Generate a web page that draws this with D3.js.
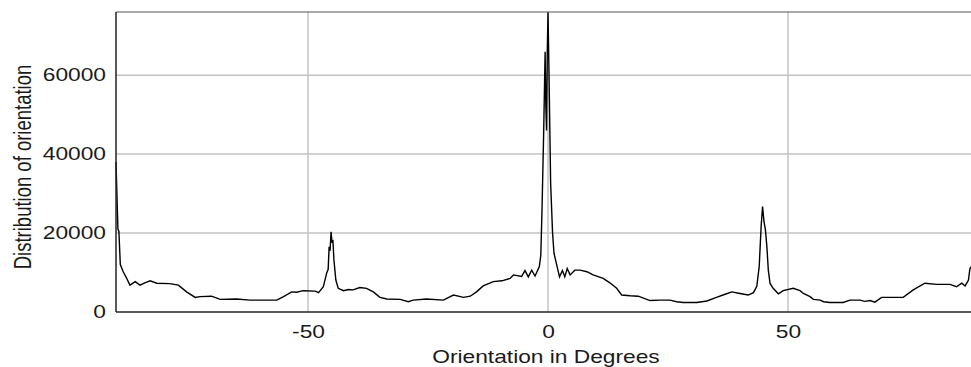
<!DOCTYPE html>
<html><head><meta charset="utf-8">
<script src="https://cdn.jsdelivr.net/npm/d3@7"></script>
<style>body{margin:0;background:#fff}svg{display:block}</style>
</head><body><svg id="chart" width="971" height="367"></svg>
<script>
const orientation = [-90,-89.6,-89.4,-89.1,-88.5,-87.8,-87.1,-86.0,-85.0,-84.0,-82.9,-81.5,-78.8,-77.0,-75.3,-73.5,-72.5,-70.1,-68.3,-64.9,-62.1,-56.5,-55.1,-53.4,-52.4,-51.0,-48.5,-47.8,-46.8,-46.1,-45.8,-45.6,-45.4,-45.2,-45.0,-44.8,-44.6,-44.2,-43.7,-42.6,-41.6,-40.6,-39.2,-37.8,-36.4,-35.0,-33.6,-30.8,-29.1,-28.1,-25.3,-21.8,-19.7,-17.6,-16.2,-14.9,-13.5,-11.4,-9.6,-7.9,-7.2,-5.5,-4.8,-4.1,-3.4,-2.7,-1.8,-1.5,-1.25,-0.9,-0.6,-0.45,-0.3,-0.15,0.0,0.2,0.55,0.95,1.25,1.8,2.4,3.0,3.5,4.0,4.6,5.6,6.7,8.1,9.4,11.5,12.9,14.3,15.35,17.1,18.8,21.25,23.3,25.4,26.8,28.2,31.0,33.1,35.1,36.9,38.3,40.0,41.7,42.8,43.5,44.0,44.4,44.7,45.0,45.3,45.6,45.9,46.25,46.9,48.0,49.0,51.1,52.5,53.2,54.6,55.3,56.7,57.4,58.75,61.5,62.9,65.0,66.0,67.1,68.1,69.5,74.0,76.1,78.5,81.0,83.75,85.1,86.2,86.9,87.6,87.9,88.5];
const distribution = [38000,21000,20500,12000,10200,8600,6800,7700,6800,7400,7900,7300,7200,6800,5100,3700,3900,4000,3200,3300,3000,3000,3900,5100,5000,5400,5300,4900,6400,9900,10800,16500,15500,20300,17800,18000,13200,8100,6000,5400,5700,5600,6200,6000,5100,3700,3300,3200,2600,3000,3300,3000,4300,3700,4000,5100,6600,7700,7900,8500,9400,9000,10500,8900,10600,9100,11500,14400,25800,45600,65900,52000,46000,66000,76000,61300,32600,20000,14900,12000,8900,10500,8900,11000,9400,10600,10600,10200,9400,8500,7400,6000,4300,4100,4000,2900,3000,3000,2600,2400,2400,2800,3700,4500,5100,4700,4300,4900,6500,11500,21600,26700,22900,20800,16500,10600,7300,6000,4600,5400,6000,5400,4700,3900,3200,3000,2600,2400,2400,3000,3000,2700,2900,2500,3700,3700,5600,7300,7000,7000,6400,7300,6600,8100,11000,12000];
const xTicks = [-50, 0, 50];
const yTicks = [0, 20000, 40000, 60000];
const xTitle = "Orientation in Degrees";
const yTitle = "Distribution of orientation";

const SX = 1.3;
const FONT = "'Liberation Sans', Arial, sans-serif";
const TXT = "#1a1a1a";
const x = d3.scaleLinear().domain([-90, 90]).range([116, 980]);
const y = d3.scaleLinear().domain([0, 76000]).range([312, 12]);
const svg = d3.select("#chart");

// grid
svg.append("g").selectAll("line").data(yTicks.filter(d => d > 0)).join("line")
  .attr("x1", x(-90)).attr("x2", x(90)).attr("y1", d => y(d)).attr("y2", d => y(d))
  .attr("stroke", "#c3c3c3").attr("stroke-width", 1.5);
svg.append("g").selectAll("line").data(xTicks).join("line")
  .attr("x1", d => x(d)).attr("x2", d => x(d)).attr("y1", y(76000)).attr("y2", y(0))
  .attr("stroke", "#c3c3c3").attr("stroke-width", 1.5);

// data line
svg.append("path").datum(d3.zip(orientation, distribution))
  .attr("d", d3.line().x(d => x(d[0])).y(d => y(d[1])))
  .attr("fill", "none").attr("stroke", "#000").attr("stroke-width", 1.4)
  .attr("stroke-linejoin", "miter");

// frame
svg.append("line").attr("x1", x(-90)).attr("x2", x(90)).attr("y1", y(76000)).attr("y2", y(76000))
  .attr("stroke", "#555").attr("stroke-width", 1.2);
svg.append("line").attr("x1", x(-90)).attr("x2", x(-90)).attr("y1", y(76000)).attr("y2", y(0))
  .attr("stroke", "#222").attr("stroke-width", 1.5);
svg.append("line").attr("x1", x(-90)).attr("x2", x(90)).attr("y1", y(0)).attr("y2", y(0))
  .attr("stroke", "#222").attr("stroke-width", 1.5);

// y axis
const yAxis = svg.append("g").attr("transform", `translate(${x(-90)},0)`)
  .call(d3.axisLeft(y).tickValues(yTicks).tickSize(0).tickPadding(10).tickFormat(d => String(d)));
yAxis.select(".domain").remove();
yAxis.attr("font-family", FONT).attr("font-size", 17.5);
yAxis.selectAll("text").attr("x", -10 / SX).attr("transform", `scale(${SX},1)`).attr("fill", TXT);

// x axis
const xAxis = svg.append("g").attr("transform", `translate(0,${y(0)})`)
  .call(d3.axisBottom(x).tickValues(xTicks).tickSize(0).tickFormat(d => String(d)));
xAxis.select(".domain").remove();
xAxis.attr("font-family", FONT).attr("font-size", 17.5);
xAxis.selectAll("text").attr("y", 26).attr("dy", 0).attr("transform", `scale(${SX},1)`).attr("fill", TXT);

// titles
svg.append("text").text(xTitle)
  .attr("transform", `translate(546,363) scale(${SX},1)`)
  .attr("text-anchor", "middle").attr("font-family", FONT).attr("font-size", 17.5).attr("fill", TXT);
svg.append("text").text(yTitle)
  .attr("transform", `translate(31,167) scale(${SX},1) rotate(-90)`)
  .attr("text-anchor", "middle").attr("font-family", FONT).attr("font-size", 18.5).attr("fill", TXT);
</script></body></html>
